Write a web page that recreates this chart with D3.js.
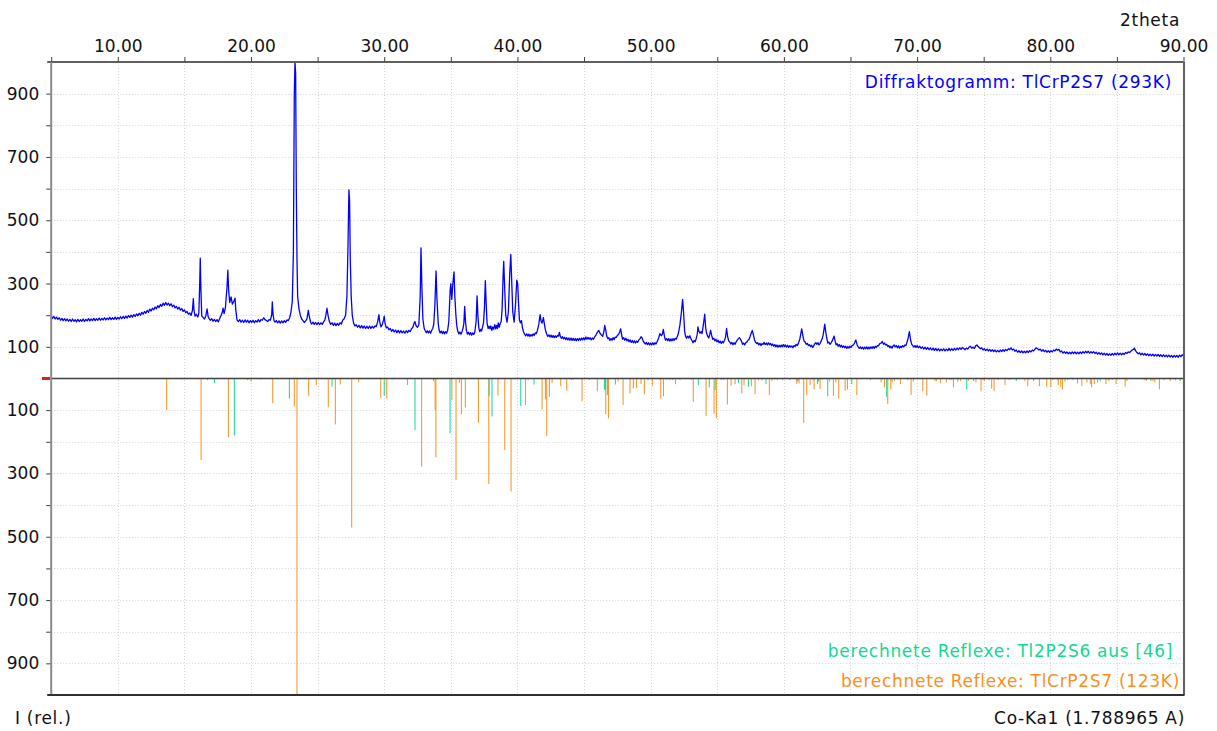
<!DOCTYPE html>
<html>
<head>
<meta charset="utf-8">
<script src="https://cdn.jsdelivr.net/npm/d3@7"></script>
<style>
  html, body { margin: 0; padding: 0; background: #fff; }
  svg text { font-family: "DejaVu Sans", Verdana, sans-serif; }
</style>
</head>
<body>
<svg id="chart" width="1217" height="731"></svg>
<script>
// Measured powder pattern, TlCrP2S7 at 293 K: [2theta, intensity]
const pattern293K = [
  [5.0,198],[5.1,190],[5.2,196],[5.3,188],[5.4,194],[5.5,187],[5.6,192],[5.7,184],[5.8,190],[5.9,183],
  [6.0,189],[6.1,182],[6.2,188],[6.3,181],[6.4,187],[6.5,180],[6.6,188],[6.7,181],[6.8,186],[6.9,179],
  [7.0,187],[7.1,180],[7.2,186],[7.3,181],[7.4,188],[7.5,180],[7.6,187],[7.7,182],[7.8,189],[7.9,182],
  [8.0,188],[8.1,183],[8.2,190],[8.3,183],[8.4,189],[8.5,184],[8.6,191],[8.7,184],[8.8,190],[8.9,185],
  [9.0,192],[9.1,185],[9.2,191],[9.3,186],[9.4,193],[9.5,186],[9.6,192],[9.7,187],[9.8,194],[9.9,187],
  [10.0,193],[10.1,188],[10.2,195],[10.3,189],[10.4,196],[10.5,190],[10.6,197],[10.7,191],[10.8,199],[10.9,193],
  [11.0,200],[11.1,194],[11.2,202],[11.3,196],[11.4,204],[11.5,198],[11.6,206],[11.7,200],[11.8,209],[11.9,203],
  [12.0,212],[12.1,206],[12.2,215],[12.3,209],[12.4,219],[12.5,213],[12.6,222],[12.7,217],[12.8,226],[12.9,220],
  [13.0,230],[13.1,224],[13.2,234],[13.3,228],[13.4,238],[13.5,231],[13.6,240],[13.7,232],[13.8,238],[13.9,230],
  [14.0,236],[14.1,227],[14.2,232],[14.3,223],[14.4,228],[14.5,219],[14.6,225],[14.7,216],[14.8,221],[14.9,212],
  [15.0,217],[15.1,208],[15.2,212],[15.3,203],[15.4,207],[15.5,199],[15.6,215],[15.67,252],[15.72,215],[15.8,197],
  [15.9,203],[16.0,194],[16.08,205],[16.15,300],[16.19,380],[16.24,280],[16.3,198],[16.4,193],[16.5,188],[16.6,196],
  [16.7,220],[16.78,196],[16.85,190],[16.95,184],[17.05,189],[17.15,181],[17.25,187],[17.35,180],[17.45,186],[17.55,179],
  [17.65,190],[17.75,199],[17.85,210],[17.9,222],[17.98,205],[18.08,225],[18.2,290],[18.26,342],[18.32,280],[18.4,240],
  [18.5,258],[18.6,235],[18.72,245],[18.8,254],[18.86,215],[18.95,185],[19.05,180],[19.15,186],[19.25,178],[19.35,184],
  [19.45,177],[19.55,185],[19.65,178],[19.75,184],[19.85,176],[19.95,183],[20.05,177],[20.15,184],[20.25,176],[20.35,183],
  [20.45,178],[20.55,186],[20.65,179],[20.75,186],[20.85,184],[20.95,192],[21.05,186],[21.15,183],[21.25,180],[21.35,186],
  [21.45,184],[21.55,200],[21.6,242],[21.65,205],[21.72,184],[21.8,178],[21.9,183],[22.0,176],[22.1,182],[22.2,175],
  [22.3,182],[22.4,176],[22.5,183],[22.6,177],[22.7,185],[22.8,183],[22.9,192],[23.0,210],[23.1,245],[23.18,400],
  [23.25,900],[23.3,1000],[23.35,965],[23.4,600],[23.45,380],[23.5,260],[23.6,220],[23.7,200],[23.8,188],[23.9,183],
  [24.0,177],[24.1,182],[24.2,188],[24.3,215],[24.38,195],[24.48,177],[24.55,172],[24.65,178],[24.75,171],[24.85,177],
  [24.95,170],[25.05,177],[25.15,170],[25.25,176],[25.35,171],[25.45,179],[25.55,185],[25.62,200],[25.7,222],[25.78,200],
  [25.88,180],[25.98,171],[26.08,176],[26.18,168],[26.28,175],[26.38,167],[26.48,174],[26.58,168],[26.68,176],[26.78,172],
  [26.88,184],[26.98,188],[27.1,200],[27.2,260],[27.28,420],[27.35,596],[27.4,560],[27.45,380],[27.52,260],[27.6,200],
  [27.7,175],[27.8,166],[27.9,170],[28.0,162],[28.1,168],[28.2,160],[28.3,167],[28.4,159],[28.5,166],[28.6,158],
  [28.7,165],[28.8,158],[28.9,166],[29.0,158],[29.1,165],[29.2,159],[29.3,166],[29.4,164],[29.5,178],[29.55,190],
  [29.6,202],[29.66,180],[29.75,163],[29.85,170],[29.95,185],[30.0,197],[30.06,175],[30.15,160],[30.25,163],[30.35,154],
  [30.45,158],[30.55,149],[30.65,155],[30.75,147],[30.85,153],[30.95,145],[31.05,152],[31.15,144],[31.25,151],[31.35,144],
  [31.45,150],[31.55,143],[31.65,151],[31.75,145],[31.85,152],[31.95,148],[32.05,157],[32.15,162],[32.22,172],[32.3,180],
  [32.4,166],[32.5,162],[32.6,170],[32.7,260],[32.76,413],[32.82,300],[32.9,188],[33.0,158],[33.08,151],[33.16,145],
  [33.24,151],[33.32,144],[33.4,150],[33.48,143],[33.56,152],[33.64,158],[33.72,172],[33.8,230],[33.89,340],[33.95,260],
  [34.05,175],[34.12,153],[34.2,144],[34.28,150],[34.36,142],[34.44,149],[34.52,141],[34.6,148],[34.68,143],[34.76,152],
  [34.85,180],[34.95,280],[35.0,300],[35.07,250],[35.15,300],[35.24,337],[35.3,260],[35.38,200],[35.45,165],[35.52,150],
  [35.6,141],[35.68,147],[35.76,140],[35.84,148],[35.92,160],[35.98,175],[36.04,228],[36.1,180],[36.17,152],[36.24,140],
  [36.32,146],[36.4,138],[36.48,145],[36.56,137],[36.64,144],[36.72,139],[36.8,147],[36.9,180],[36.97,261],[37.03,200],
  [37.1,160],[37.17,148],[37.24,155],[37.3,150],[37.38,162],[37.45,175],[37.52,220],[37.59,309],[37.65,240],[37.72,175],
  [37.8,158],[37.87,165],[37.94,157],[38.0,166],[38.08,152],[38.15,163],[38.22,156],[38.3,170],[38.37,157],[38.44,168],
  [38.5,158],[38.56,176],[38.63,162],[38.7,173],[38.78,180],[38.85,220],[38.92,320],[38.97,370],[39.03,300],[39.12,200],
  [39.22,178],[39.32,210],[39.42,330],[39.5,392],[39.56,320],[39.65,210],[39.75,178],[39.85,230],[39.95,311],[40.02,300],
  [40.08,240],[40.15,185],[40.22,176],[40.3,183],[40.38,160],[40.46,147],[40.54,140],[40.62,135],[40.7,141],[40.78,134],
  [40.86,140],[40.94,133],[41.02,139],[41.1,134],[41.18,141],[41.26,136],[41.34,144],[41.42,142],[41.5,152],[41.6,170],
  [41.7,202],[41.78,180],[41.85,175],[41.95,192],[42.05,165],[42.12,150],[42.2,140],[42.28,133],[42.36,138],[42.44,131],
  [42.52,137],[42.6,130],[42.68,136],[42.76,129],[42.84,135],[42.92,130],[43.0,136],[43.08,134],[43.15,146],[43.22,133],
  [43.3,127],[43.38,132],[43.46,125],[43.54,130],[43.62,123],[43.7,129],[43.78,122],[43.86,128],[43.94,121],[44.02,128],
  [44.1,120],[44.18,127],[44.26,120],[44.34,126],[44.42,119],[44.5,126],[44.58,120],[44.66,127],[44.74,121],[44.82,128],
  [44.9,122],[44.98,129],[45.06,122],[45.14,131],[45.22,124],[45.3,130],[45.38,124],[45.46,129],[45.54,122],[45.62,128],
  [45.7,124],[45.8,131],[45.9,138],[46.0,146],[46.1,152],[46.2,143],[46.3,138],[46.4,133],[46.5,150],[46.55,168],
  [46.62,155],[46.7,134],[46.78,126],[46.86,129],[46.94,120],[47.02,126],[47.1,121],[47.18,129],[47.26,123],[47.34,131],
  [47.42,130],[47.5,136],[47.6,140],[47.68,148],[47.75,157],[47.83,135],[47.9,124],[47.98,129],[48.06,121],[48.14,127],
  [48.22,119],[48.3,124],[48.38,116],[48.46,122],[48.54,114],[48.62,120],[48.7,113],[48.78,119],[48.86,112],[48.94,118],
  [49.02,114],[49.1,121],[49.2,126],[49.28,132],[49.36,128],[49.44,118],[49.52,113],[49.6,109],[49.68,114],[49.76,107],
  [49.84,113],[49.92,106],[50.0,112],[50.08,106],[50.16,113],[50.24,107],[50.32,113],[50.4,109],[50.5,118],[50.6,128],
  [50.7,142],[50.8,135],[50.88,140],[50.95,155],[51.05,130],[51.12,121],[51.2,126],[51.28,119],[51.36,126],[51.44,118],
  [51.52,125],[51.6,119],[51.68,126],[51.76,120],[51.84,127],[51.92,124],[52.0,133],[52.08,142],[52.2,170],[52.3,206],
  [52.4,250],[52.47,210],[52.55,150],[52.62,133],[52.7,127],[52.78,134],[52.86,128],[52.94,135],[53.02,126],[53.1,120],
  [53.18,113],[53.26,120],[53.34,116],[53.42,126],[53.5,140],[53.55,163],[53.62,150],[53.7,143],[53.78,148],[53.86,142],
  [53.95,168],[54.06,203],[54.13,160],[54.2,142],[54.28,134],[54.36,128],[54.44,140],[54.5,152],[54.58,136],[54.66,124],
  [54.74,127],[54.82,119],[54.9,124],[54.98,116],[55.06,121],[55.14,113],[55.22,118],[55.3,111],[55.38,117],[55.46,113],
  [55.54,121],[55.62,130],[55.7,158],[55.78,132],[55.86,119],[55.94,115],[56.02,109],[56.1,114],[56.18,107],[56.26,113],
  [56.34,108],[56.42,116],[56.5,121],[56.58,125],[56.66,129],[56.74,124],[56.82,118],[56.9,108],[56.98,112],[57.06,106],
  [57.14,113],[57.22,115],[57.3,121],[57.38,123],[57.46,132],[57.54,142],[57.63,152],[57.72,136],[57.8,122],[57.88,114],
  [57.96,110],[58.04,113],[58.12,106],[58.2,111],[58.28,104],[58.36,110],[58.44,108],[58.52,114],[58.6,107],[58.68,112],
  [58.76,106],[58.84,113],[58.92,107],[59.0,111],[59.08,104],[59.16,109],[59.24,102],[59.32,107],[59.4,100],[59.48,106],
  [59.56,99],[59.64,105],[59.72,100],[59.8,106],[59.88,100],[59.96,107],[60.04,101],[60.12,106],[60.2,99],[60.28,105],
  [60.36,98],[60.44,104],[60.52,99],[60.6,103],[60.68,97],[60.76,104],[60.84,101],[60.92,108],[61.0,104],[61.09,111],
  [61.2,125],[61.34,157],[61.45,130],[61.52,118],[61.6,115],[61.68,108],[61.76,111],[61.84,104],[61.92,107],[62.0,101],
  [62.08,105],[62.16,98],[62.24,103],[62.32,110],[62.4,113],[62.48,108],[62.56,113],[62.64,106],[62.72,111],[62.8,118],
  [62.88,126],[62.96,140],[63.07,172],[63.15,145],[63.22,128],[63.3,112],[63.38,115],[63.46,108],[63.54,112],[63.62,118],
  [63.7,126],[63.77,134],[63.85,118],[63.92,106],[64.0,110],[64.08,102],[64.16,107],[64.24,100],[64.32,105],[64.4,98],
  [64.48,103],[64.56,97],[64.64,102],[64.72,95],[64.8,101],[64.88,96],[64.96,102],[65.04,98],[65.12,104],[65.22,106],
  [65.3,112],[65.4,122],[65.5,106],[65.58,100],[65.66,95],[65.74,100],[65.82,94],[65.9,99],[65.98,93],[66.06,99],
  [66.14,94],[66.22,100],[66.3,93],[66.38,99],[66.46,94],[66.54,100],[66.62,95],[66.7,101],[66.78,95],[66.86,102],
  [66.94,98],[67.02,104],[67.1,103],[67.2,110],[67.3,112],[67.39,117],[67.48,108],[67.56,112],[67.64,106],[67.72,108],
  [67.8,101],[67.88,104],[67.96,97],[68.04,102],[68.12,96],[68.2,103],[68.28,106],[68.36,100],[68.44,104],[68.52,97],
  [68.6,103],[68.68,96],[68.76,102],[68.84,98],[68.92,104],[69.0,100],[69.08,106],[69.16,104],[69.25,115],[69.34,130],
  [69.42,148],[69.52,120],[69.6,108],[69.68,104],[69.76,99],[69.84,104],[69.92,98],[70.0,104],[70.1,97],[70.2,102],
  [70.3,95],[70.4,100],[70.5,93],[70.6,99],[70.7,92],[70.8,98],[70.9,91],[71.0,97],[71.1,90],[71.2,96],
  [71.3,89],[71.4,95],[71.5,88],[71.6,94],[71.7,87],[71.8,93],[71.9,88],[72.0,94],[72.1,87],[72.2,93],
  [72.3,88],[72.4,95],[72.5,88],[72.6,94],[72.7,89],[72.8,95],[72.9,90],[73.0,96],[73.1,91],[73.2,97],
  [73.3,92],[73.4,98],[73.5,95],[73.6,91],[73.7,96],[73.8,93],[73.9,99],[74.0,102],[74.1,96],[74.2,99],
  [74.3,95],[74.4,103],[74.5,106],[74.58,101],[74.66,98],[74.75,94],[74.85,97],[74.95,90],[75.05,94],[75.15,88],
  [75.25,93],[75.35,87],[75.45,92],[75.55,86],[75.65,91],[75.75,85],[75.85,90],[75.95,84],[76.05,89],[76.15,84],
  [76.25,90],[76.35,85],[76.45,91],[76.55,86],[76.65,92],[76.75,88],[76.85,94],[76.95,91],[77.05,97],[77.15,90],
  [77.25,93],[77.35,86],[77.45,90],[77.55,83],[77.65,88],[77.75,82],[77.85,87],[77.95,81],[78.05,86],[78.15,81],
  [78.25,87],[78.35,82],[78.45,88],[78.55,84],[78.65,90],[78.75,87],[78.85,93],[78.95,97],[79.05,94],[79.15,90],
  [79.25,93],[79.35,86],[79.45,91],[79.55,85],[79.65,89],[79.75,83],[79.85,88],[79.95,83],[80.05,88],[80.15,84],
  [80.25,90],[80.35,87],[80.45,93],[80.55,89],[80.65,92],[80.75,84],[80.85,87],[80.95,80],[81.05,85],[81.15,79],
  [81.25,84],[81.35,78],[81.45,83],[81.55,78],[81.65,84],[81.75,79],[81.85,84],[81.95,78],[82.05,83],[82.15,78],
  [82.25,84],[82.35,79],[82.45,85],[82.55,80],[82.65,86],[82.75,81],[82.85,86],[82.95,80],[83.05,85],[83.15,80],
  [83.25,85],[83.35,79],[83.45,83],[83.55,77],[83.65,82],[83.75,76],[83.85,81],[83.95,75],[84.05,80],[84.15,74],
  [84.25,79],[84.35,73],[84.45,78],[84.55,73],[84.65,79],[84.75,74],[84.85,80],[84.95,75],[85.05,81],[85.15,75],
  [85.25,80],[85.35,75],[85.45,80],[85.55,76],[85.65,82],[85.75,79],[85.85,84],[85.95,82],[86.05,86],[86.15,90],
  [86.25,92],[86.31,96],[86.4,88],[86.5,82],[86.6,78],[86.7,81],[86.8,75],[86.9,80],[87.0,74],[87.1,79],
  [87.2,73],[87.3,78],[87.4,72],[87.5,77],[87.6,72],[87.7,77],[87.8,71],[87.9,76],[88.0,71],[88.1,76],
  [88.2,70],[88.3,75],[88.4,69],[88.5,75],[88.6,69],[88.7,74],[88.8,68],[88.9,74],[89.0,68],[89.1,73],
  [89.2,67],[89.3,73],[89.4,68],[89.5,73],[89.6,67],[89.7,74],[89.8,69],[89.9,75],[90.0,71]
];

// Calculated reflections, TlCrP2S7 (123 K): [2theta, relative intensity]
const reflexTlCrP2S7 = [
  [13.67,100],[14.8,3],[16.25,258],[16.73,5],[18.3,186],[20.0,10],[20.75,3],[21.63,78],[23.25,89],[23.45,1000],
  [24.33,55],[24.9,21],[25.8,91],[26.33,145],[26.7,19],[27.56,471],[28.08,12],[29.74,61],[30.19,63],[31.74,21],
  [32.81,279],[33.7,8],[33.82,100],[33.88,249],[35.08,68],[35.39,321],[35.64,14],[35.79,113],[36.09,92],[37.07,140],
  [37.85,333],[38.54,54],[39.05,226],[39.52,357],[40.6,84],[40.8,5],[41.85,98],[42.1,66],[42.2,182],[42.4,58],
  [42.6,14],[43.25,24],[43.7,38],[44.05,4],[44.2,4],[44.85,72],[45.4,4],[46.0,40],[46.63,113],[46.83,126],
  [47.55,10],[47.93,84],[48.45,47],[48.7,32],[48.95,30],[49.28,18],[49.53,50],[49.8,6],[50.13,23],[50.7,5],
  [50.76,63],[50.96,56],[51.45,5],[51.65,5],[51.86,18],[52.2,5],[53.05,5],[53.2,74],[54.16,119],[54.76,111],
  [54.93,126],[55.3,5],[55.5,5],[55.76,82],[56.04,23],[56.34,18],[56.84,47],[57.01,21],[57.56,24],[57.84,50],
  [58.1,6],[58.35,6],[58.91,52],[59.1,8],[59.5,5],[59.9,5],[60.45,5],[60.97,18],[61.0,10],[61.14,16],
  [61.49,140],[61.72,52],[61.97,21],[62.2,6],[62.27,35],[62.72,33],[63.44,10],[63.72,55],[63.9,12],[64.12,63],
  [64.6,39],[64.77,35],[65.48,52],[66.5,5],[67.3,12],[67.55,28],[67.8,81],[68.03,35],[68.13,12],[68.3,8],
  [68.75,18],[69.3,5],[69.55,52],[69.72,10],[70.43,40],[70.73,54],[71.35,8],[71.45,8],[71.75,15],[72.2,12],
  [72.45,5],[72.6,5],[72.73,28],[73.05,10],[73.25,8],[73.85,8],[74.42,12],[74.8,40],[74.95,5],[75.05,8],
  [75.4,5],[75.6,32],[75.78,40],[76.1,5],[76.6,21],[76.95,5],[77.3,3],[78.09,8],[78.31,24],[78.8,3],
  [79.18,24],[79.73,26],[80.04,28],[80.17,5],[80.6,21],[80.79,26],[80.91,35],[81.1,10],[81.3,5],[81.7,5],
  [82.04,16],[82.37,24],[82.75,12],[83.0,18],[83.1,28],[83.3,18],[83.55,12],[84.18,18],[84.4,8],[84.65,5],
  [84.94,18],[85.62,26],[85.75,8],[87.2,8],[87.7,8],[87.85,12],[88.19,34],[88.55,5],[89.0,8],[89.4,5],
  [89.99,26]
];

// Calculated reflections, Tl2P2S6 after [46]: [2theta, relative intensity]
const reflexTl2P2S6 = [
  [17.25,14],[18.75,180],[19.75,5],[22.88,64],[26.08,26],[30.0,55],[30.6,3],[32.31,163],[34.94,173],[37.87,56],
  [38.09,120],[40.25,87],[41.25,19],[46.53,35],[46.6,36],[46.75,52],[47.35,19],[51.2,4],[53.58,21],[54.4,28],
  [54.84,37],[56.59,14],[57.34,26],[58.66,18],[59.3,3],[61.05,8],[62.52,18],[62.6,10],[62.9,3],[63.29,56],
  [65.1,18],[67.4,3],[67.72,58],[68.55,3],[73.73,35],[74.25,8],[76.9,3],[77.45,8],[78.4,3],[78.75,8],
  [80.55,5],[83.75,8],[84.35,3],[87.05,5],[87.25,5],[87.55,8],[89.75,8]
];

const xTickValues = d3.range(5, 90.01, 5);      // top axis ticks, labelled every 10
const yTickValues = d3.range(100, 1000, 100);   // intensity ticks, labelled at odd hundreds

const xLabel = "2theta";
const yLabel = "I (rel.)";
const wavelengthLabel = "Co-Ka1 (1.788965 A)";
const legendScan = "Diffraktogramm: TlCrP2S7 (293K)";
const legendTl2P2S6 = "berechnete Reflexe: Tl2P2S6 aus [46]";
const legendTlCrP2S7 = "berechnete Reflexe: TlCrP2S7 (123K)";

const BLUE = "#0000ff", ORANGE = "#f7901e", GREEN = "#12d894";
const FONT = 17;

const svg = d3.select("#chart");
const L = 51.2, R = 1183.5, T = 62, B = 695, Z = 378.5;

const x = d3.scaleLinear().domain([5, 90]).range([L, R]);
const yUp = d3.scaleLinear().domain([0, 1000]).range([Z, T]);
const yDown = d3.scaleLinear().domain([0, 1000]).range([Z, B]);

svg.append("defs").append("clipPath").attr("id", "plot")
  .append("rect").attr("x", L).attr("y", T).attr("width", R - L).attr("height", B - T);

// dotted grid
const grid = svg.append("g").attr("stroke", "#d4d4d4").attr("stroke-dasharray", "1,2").attr("stroke-width", 1);
grid.selectAll("line.v").data(xTickValues.filter(v => v > 5 && v < 90)).join("line")
  .attr("x1", d => Math.round(x(d)) + 0.5).attr("x2", d => Math.round(x(d)) + 0.5)
  .attr("y1", T).attr("y2", B);
grid.selectAll("line.hu").data(yTickValues).join("line")
  .attr("x1", L).attr("x2", R).attr("y1", d => Math.round(yUp(d)) + 0.5).attr("y2", d => Math.round(yUp(d)) + 0.5);
grid.selectAll("line.hd").data(yTickValues).join("line")
  .attr("x1", L).attr("x2", R).attr("y1", d => Math.round(yDown(d)) + 0.5).attr("y2", d => Math.round(yDown(d)) + 0.5);

// calculated reflections as sticks below the zero line
const sticks = svg.append("g").attr("clip-path", "url(#plot)").attr("stroke-width", 1);
sticks.selectAll("line.o").data(reflexTlCrP2S7).join("line")
  .attr("stroke", ORANGE)
  .attr("x1", d => x(d[0])).attr("x2", d => x(d[0]))
  .attr("y1", yDown(0)).attr("y2", d => yDown(d[1]));
sticks.selectAll("line.g").data(reflexTl2P2S6).join("line")
  .attr("stroke", GREEN)
  .attr("x1", d => x(d[0])).attr("x2", d => x(d[0]))
  .attr("y1", yDown(0)).attr("y2", d => yDown(d[1]));

// measured pattern
svg.append("path").datum(pattern293K)
  .attr("clip-path", "url(#plot)")
  .attr("fill", "none").attr("stroke", BLUE).attr("stroke-width", 1.3)
  .attr("stroke-linejoin", "round")
  .attr("d", d3.line().x(d => x(d[0])).y(d => yUp(d[1])));

// zero line and marker
svg.append("line").attr("x1", L).attr("x2", R).attr("y1", Z).attr("y2", Z)
  .attr("stroke", "#404040").attr("stroke-width", 1.5);
svg.append("rect").attr("x", 42).attr("y", Z - 1.5).attr("width", 8).attr("height", 3).attr("fill", "#e02020");

// top axis
const axTop = svg.append("g").attr("transform", `translate(0,${T})`)
  .call(d3.axisTop(x).tickValues(xTickValues).tickSize(5).tickPadding(5)
    .tickFormat(d => d % 10 === 0 ? d3.format(".2f")(d) : ""));
axTop.select(".domain").attr("stroke", "#606060").attr("stroke-width", 2).attr("d", `M${L - 4},0H${R}`);
axTop.selectAll(".tick line").attr("stroke", "#404040");
axTop.selectAll(".tick text").attr("font-size", FONT).attr("fill", "#111");

// left axes, upper and lower
function leftAxis(scale) {
  const g = svg.append("g").attr("transform", `translate(${L},0)`)
    .call(d3.axisLeft(scale).tickValues(yTickValues).tickSize(5).tickPadding(7)
      .tickFormat(d => (d / 100) % 2 === 1 ? d : ""));
  g.select(".domain").remove();
  g.selectAll(".tick line").attr("stroke", "#404040");
  g.selectAll(".tick text").attr("font-size", FONT).attr("fill", "#111");
  return g;
}
leftAxis(yUp);
leftAxis(yDown);
svg.append("line").attr("x1", L).attr("x2", L).attr("y1", T).attr("y2", B)
  .attr("stroke", "#8a8a8a").attr("stroke-width", 2);

// frame: right and bottom
svg.append("line").attr("x1", R + 0.5).attr("x2", R + 0.5).attr("y1", T).attr("y2", B)
  .attr("stroke", "#606060").attr("stroke-width", 2);
svg.append("line").attr("x1", L - 4).attr("x2", R + 1).attr("y1", B).attr("y2", B)
  .attr("stroke", "#303030").attr("stroke-width", 2);

// labels
const txt = (s, xx, yy, anchor, color) => svg.append("text").text(s)
  .attr("x", xx).attr("y", yy).attr("text-anchor", anchor).attr("fill", color)
  .attr("font-size", FONT).attr("letter-spacing", "0.7px");
txt(xLabel, 1180, 26, "end", "#111");
txt(yLabel, 15, 724, "start", "#111");
txt(wavelengthLabel, 1185, 724, "end", "#111");
txt(legendScan, 1172, 88, "end", BLUE);
txt(legendTl2P2S6, 1173, 657, "end", GREEN);
txt(legendTlCrP2S7, 1180, 687, "end", ORANGE);
</script>
</body>
</html>
